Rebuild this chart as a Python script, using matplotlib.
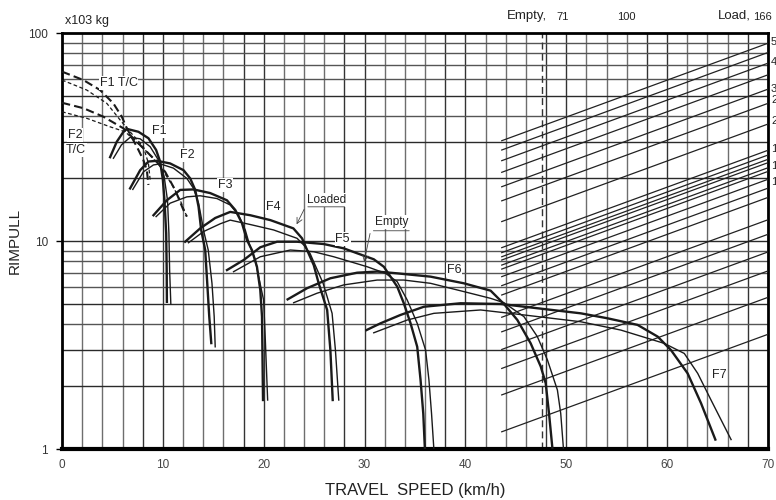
import matplotlib.pyplot as plt

# speed (km/h) / rimpull (x10^3 kg)
f1_load_v = [4.77, 5.43, 6.09, 6.43, 7.58, 8.57, 9.33, 9.73, 10.0, 10.16, 10.33, 10.38, 10.40]
f1_load_r = [25.3, 30.0, 33.5, 34.6, 33.5, 31.2, 27.4, 24.1, 19.7, 15.7, 10.9, 7.25, 5.1]
f1_empty_v = [5.1, 5.9, 6.75, 7.75, 8.74, 9.56, 10.13, 10.46, 10.6, 10.67, 10.79]
f1_empty_r = [25.0, 29.0, 31.5, 31.0, 28.4, 24.5, 20.4, 15.7, 10.9, 7.25, 4.98]

f2_load_v = [6.75, 7.75, 8.57, 9.40, 10.72, 12.05, 12.71, 13.21, 13.54, 13.8, 14.2, 14.4, 14.6, 14.8]
f2_load_r = [17.9, 21.9, 24.1, 24.3, 23.6, 21.9, 20.0, 17.6, 14.6, 11.3, 9.05, 6.28, 4.33, 3.23]
f2_empty_v = [7.02, 8.07, 9.06, 9.73, 11.05, 12.38, 13.04, 13.54, 14.1, 14.5, 14.87, 15.09, 15.19]
f2_empty_r = [17.7, 21.5, 23.2, 23.5, 22.4, 20.0, 17.9, 15.2, 10.9, 9.05, 6.26, 4.33, 3.10]

f3_load_v = [9.07, 10.4, 11.72, 13.04, 14.69, 16.35, 17.18, 17.84, 18.34, 18.83, 19.33, 19.66, 19.83, 19.93]
f3_load_r = [13.3, 15.7, 17.6, 17.7, 17.0, 15.7, 14.1, 12.2, 10.1, 9.05, 7.52, 5.81, 4.33, 1.72]
f3_empty_v = [9.33, 10.72, 12.38, 13.7, 15.36, 16.68, 17.51, 18.17, 18.6, 19.17, 19.46, 19.99, 20.16, 20.39]
f3_empty_r = [13.1, 15.2, 16.3, 16.5, 16.0, 14.9, 13.3, 11.3, 9.57, 8.1, 6.86, 5.2, 3.34, 1.72]

f4_load_v = [12.21, 13.7, 15.19, 16.68, 18.67, 20.66, 22.94, 23.8, 24.3, 24.96, 25.45, 26.29, 26.61, 26.84]
f4_load_r = [9.92, 11.5, 12.9, 13.8, 13.3, 12.6, 11.5, 10.3, 9.05, 7.66, 6.26, 4.66, 2.99, 1.72]
f4_empty_v = [12.54, 14.03, 15.69, 16.68, 18.67, 20.98, 23.31, 23.96, 24.6, 25.89, 26.78, 27.11, 27.44]
f4_empty_r = [9.81, 11.1, 12.1, 12.6, 12.0, 11.3, 10.3, 9.57, 8.7, 6.26, 4.49, 2.99, 1.72]

f5_load_v = [16.36, 18.01, 19.66, 21.32, 23.3, 25.95, 27.93, 29.26, 30.91, 31.91, 32.57, 33.24,
             33.89, 34.56, 35.22, 35.55, 35.82, 35.98]
f5_load_r = [7.25, 8.1, 9.33, 9.92, 9.92, 9.67, 9.22, 8.73, 8.17, 7.52, 6.74, 6.03,
             5.02, 4.02, 3.10, 2.15, 1.48, 1.0]
f5_empty_v = [17.01, 19.66, 22.64, 24.96, 26.94, 28.6, 30.26, 32.08, 33.24, 34.23, 35.22, 36.05, 36.38, 36.64, 36.87]
f5_empty_r = [7.12, 8.40, 9.05, 8.88, 8.40, 7.95, 7.52, 6.99, 6.37, 5.2, 4.02, 2.99, 2.15, 1.48, 1.0]

f6_load_v = [22.37, 24.3, 26.61, 29.26, 31.25, 33.24, 36.54, 39.85, 42.5, 43.82, 45.15, 46.47, 47.47, 47.96, 48.29, 48.63]
f6_load_r = [5.24, 5.93, 6.62, 7.04, 7.13, 6.99, 6.74, 6.26, 5.77, 4.98, 4.17, 3.22, 2.49, 2.07, 1.48, 1.0]
f6_empty_v = [22.97, 25.29, 27.93, 31.25, 33.89, 36.54, 39.85, 42.5, 43.82, 45.8, 47.13, 48.13, 49.12, 49.45, 49.72]
f6_empty_r = [5.05, 5.61, 6.15, 6.49, 6.49, 6.26, 5.71, 5.30, 5.05, 4.33, 3.47, 2.68, 1.92, 1.48, 1.0]

f7_load_v = [30.19, 31.58, 33.56, 35.88, 39.52, 43.5, 47.14, 51.44, 54.09, 57.07, 59.06, 60.38, 62.03, 63.36, 64.78]
f7_load_r = [3.73, 4.02, 4.41, 4.83, 5.02, 4.98, 4.75, 4.49, 4.25, 3.95, 3.47, 2.99, 2.31, 1.66, 1.11]
f7_empty_v = [30.91, 34.23, 36.87, 41.51, 45.81, 51.44, 55.41, 59.71, 61.7, 63.03, 64.35, 66.34]
f7_empty_r = [3.62, 4.17, 4.49, 4.66, 4.41, 4.09, 3.73, 3.22, 2.88, 2.31, 1.72, 1.11]

# torque converter range (dashed)
f1tc_load_v = [0, 2.12, 3.77, 5.09, 5.93, 6.43, 7.42, 8.07, 8.41, 8.57]
f1tc_load_r = [65.2, 59.4, 53.2, 45.9, 39.6, 34.8, 28.4, 24.5, 21.9, 18.6]
f1tc_empty_v = [0, 2.45, 4.44, 5.76, 6.58, 8.07, 8.57, 8.74]
f1tc_empty_r = [59.4, 53.2, 45.9, 38.2, 34.2, 28.4, 23.6, 19.7]
f2tc_load_v = [0, 2.12, 4.1, 6.09, 7.75, 9.24, 10.23, 11.22, 12.04, 12.38]
f2tc_load_r = [46.2, 43.5, 39.6, 34.8, 28.9, 24.5, 21.5, 17.6, 14.1, 13.1]
f2tc_empty_v = [0, 2.45, 4.77, 6.26, 8.24, 9.73, 10.92, 11.72, 12.38]
f2tc_empty_r = [41.8, 38.9, 35.4, 33.5, 27.4, 22.9, 18.6, 15.7, 13.1]

# resistance lines: rimpull at the left end (43.6 km/h) and at the right edge (70 km/h)
resist_start = [30.35, 27.38, 24.33, 21.39, 18.24, 15.6, 12.4, 9.29, 8.79, 8.40, 8.10, 7.66, 7.33,
                6.74, 6.10, 5.50, 4.30, 3.66, 3.01, 2.44, 1.82, 1.21]
resist_end = [89.3, 80.6, 71.6, 62.95, 53.7, 45.9, 36.5, 27.3, 25.9, 24.7, 23.8, 22.5, 21.6,
              19.8, 17.95, 16.2, 12.65, 10.77, 8.86, 7.18, 5.36, 3.56]
resist_labels = ['5', '4', '3', '2', '2', '1', '1', '1']
resist_label_y = [41.7, 62, 89, 100, 121, 149, 166, 182]  # pixel rows of the cut-off labels

empty_speed = 47.6

narrow = ['Liberation Sans Narrow', 'Liberation Sans', 'DejaVu Sans']
plt.rcParams['font.family'] = ['Liberation Sans', 'DejaVu Sans']

fig = plt.figure(figsize=(7.76, 5.0), dpi=100)
ax = fig.add_axes([62 / 776, 51 / 500, 706 / 776, 416 / 500])
ax.set_yscale('log')
ax.set_xlim(0, 70)
ax.set_ylim(1, 100)

# grid
for xv in range(2, 70, 2):
    ax.axvline(xv, color='#333333' if xv % 10 in (0, 8) else '#6e6e6e', lw=1.0, zorder=1)
for dec in (1, 10):
    for m in range(2, 11):
        if dec * m >= 100:
            continue
        ax.axhline(dec * m, color='#2a2a2a' if m in (10, 2, 3, 5) else '#555555', lw=1.0, zorder=1)

ax.axvline(empty_speed, color='#333333', lw=1.0, ls=(0, (5, 3)), zorder=2)

for s, e in zip(resist_start, resist_end):
    ax.plot([43.6, 70], [s, e], color='#222222', lw=0.9, zorder=3)

lc = '#1a1a1a'
curves = [
    (f1_load_v, f1_load_r, f1_empty_v, f1_empty_r),
    (f2_load_v, f2_load_r, f2_empty_v, f2_empty_r),
    (f3_load_v, f3_load_r, f3_empty_v, f3_empty_r),
    (f4_load_v, f4_load_r, f4_empty_v, f4_empty_r),
    (f5_load_v, f5_load_r, f5_empty_v, f5_empty_r),
    (f6_load_v, f6_load_r, f6_empty_v, f6_empty_r),
    (f7_load_v, f7_load_r, f7_empty_v, f7_empty_r),
]
for lv, lr, ev, er in curves:
    ax.plot(lv, lr, color=lc, lw=1.7, zorder=4, solid_joinstyle='round')
    ax.plot(ev, er, color=lc, lw=1.0, zorder=4)

ax.plot(f1tc_load_v, f1tc_load_r, color=lc, lw=1.5, ls=(0, (4, 2)), zorder=4)
ax.plot(f1tc_empty_v, f1tc_empty_r, color=lc, lw=0.9, ls=(0, (3, 2)), zorder=4)
ax.plot(f2tc_load_v, f2tc_load_r, color=lc, lw=1.5, ls=(0, (4, 2)), zorder=4)
ax.plot(f2tc_empty_v, f2tc_empty_r, color=lc, lw=0.9, ls=(0, (3, 2)), zorder=4)

box = dict(facecolor='white', edgecolor='none', pad=0.6)
gear_labels = [('F1', 9.66, 33.9), ('F2', 12.38, 25.9), ('F3', 16.19, 18.6), ('F4', 20.98, 14.6),
               ('F5', 27.83, 10.2), ('F6', 38.86, 7.25), ('F7', 65.17, 2.27),
               ('F1 T/C', 5.61, 57.5), ('F2', 1.29, 32.3), ('T/C', 1.39, 27.4)]
for txt, xv, yv in gear_labels:
    ax.text(xv, yv, txt, fontsize=9, color='#222222', ha='center', va='center', bbox=box, zorder=5)

# Loaded / Empty call-outs
ax.text(26.2, 15.7, 'Loaded', fontsize=8.5, color='#222222', ha='center', va='center', bbox=box, zorder=5)
ax.annotate('', xy=(28.3, 14.6), xytext=(24.1, 14.6),
            arrowprops=dict(arrowstyle='-', lw=0.6, color='#444444'), zorder=5)
ax.annotate('', xy=(23.14, 11.7), xytext=(24.13, 14.6),
            arrowprops=dict(arrowstyle='->', lw=0.6, color='#444444'), zorder=5)
ax.text(32.7, 12.3, 'Empty', fontsize=8.5, color='#222222', ha='center', va='center', bbox=box, zorder=5)
ax.annotate('', xy=(34.7, 11.2), xytext=(30.6, 11.2),
            arrowprops=dict(arrowstyle='-', lw=0.6, color='#444444'), zorder=5)
ax.annotate('', xy=(29.9, 7.7), xytext=(30.6, 11.2),
            arrowprops=dict(arrowstyle='->', lw=0.6, color='#444444'), zorder=5)

# axes styling
for side in ('left', 'right', 'top'):
    ax.spines[side].set_linewidth(2.0)
ax.spines['bottom'].set_linewidth(3.0)
ax.set_xticks(range(0, 71, 10))
ax.set_xticklabels([str(v) for v in range(0, 71, 10)], family=narrow, fontsize=8.5, color='#444444')
ax.set_yticks([1, 10, 100])
ax.set_yticklabels(['1', '10', '100'], fontsize=8.5, color='#333333')
ax.yaxis.set_minor_locator(plt.NullLocator())
ax.tick_params(axis='x', length=0, pad=7)
ax.tick_params(axis='y', length=4, width=1, pad=6)

ax.set_xlabel('TRAVEL  SPEED (km/h)', family=narrow, fontsize=12, color='#222222', labelpad=9)
ax.set_ylabel('RIMPULL', fontsize=11, color='#222222')
ax.yaxis.set_label_coords(-40 / 706, 0.5)

# top weight scale and unit
fig.text(65 / 776, 1 - 21 / 500, 'x103 kg', fontsize=9, color='#222222', va='center')
fig.text(507 / 776, 1 - 16 / 500, 'Empty,', fontsize=9.5, color='#222222', va='center')
fig.text(556 / 776, 1 - 17 / 500, '71', fontsize=8, color='#222222', va='center')
fig.text(626 / 776, 1 - 17 / 500, '100', fontsize=8, color='#222222', va='center', ha='center')
fig.text(718 / 776, 1 - 16 / 500, 'Load,', fontsize=9.5, color='#222222', va='center')
fig.text(753 / 776, 1 - 17 / 500, '166', fontsize=8, color='#222222', va='center')

for lab, py in zip(resist_labels, resist_label_y):
    fig.text(771 / 776, 1 - py / 500, lab, fontsize=8, color='#222222', va='center')

fig.savefig('out.png', dpi=100)
